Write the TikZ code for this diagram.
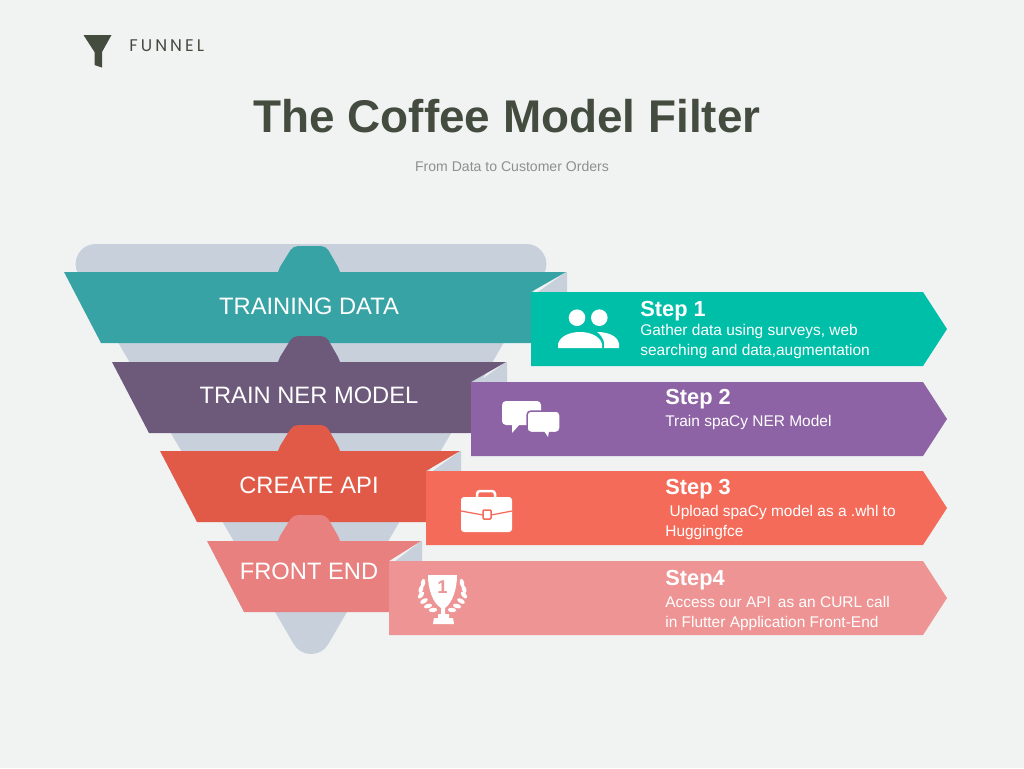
\documentclass[tikz,border=0pt]{standalone}
\usepackage{fontspec}
\setmainfont{Liberation Sans}
\newfontfamily\logofont[LetterSpace=18]{Poppins}
\usetikzlibrary{positioning}
\definecolor{paper}{HTML}{F1F3F3}
\definecolor{backfunnel}{HTML}{C7D0DB}
\definecolor{inkgreen}{HTML}{434C3E}
\definecolor{inkgrey}{HTML}{8B918C}
\definecolor{ribbonA}{HTML}{38A3A5}
\definecolor{ribbonB}{HTML}{6D597A}
\definecolor{ribbonC}{HTML}{E05A47}
\definecolor{ribbonD}{HTML}{E88080}
\definecolor{boxA}{HTML}{00BFA9}
\definecolor{boxB}{HTML}{8E63A5}
\definecolor{boxC}{HTML}{F46B5A}
\definecolor{boxD}{HTML}{EE9494}
\begin{document}
\begin{tikzpicture}[
    x=0.02cm, y=-0.02cm,
    ribbonlbl/.style={text=white, inner sep=0pt, font=\fontsize{13.5}{17}\selectfont},
    stephead/.style={anchor=west, text=white, inner sep=0pt, font=\bfseries\fontsize{12.4}{14}\selectfont},
    stepbody/.style={anchor=north west, text=white, inner sep=0pt, align=left, font=\fontsize{8.8}{11.4}\selectfont}
]
\fill[paper] (0,0) rectangle (1024,768);
\useasboundingbox (0,0) rectangle (1024,768);

% logo and titles
\fill[inkgreen] (83.5,35) -- (111.5,35) -- (102,52) -- (102,67.5) -- (94.5,65) -- (94.5,52) -- cycle;
\node[anchor=west, text=inkgreen, inner sep=0pt, font=\logofont\fontsize{9.6}{11}\selectfont] (logo) at (129,46) {FUNNEL};
\node[text=inkgreen, inner sep=0pt, font=\bfseries\fontsize{26.1}{30}\selectfont] (title) at (507,116) {The Coffee Model Filter};
\node[text=inkgrey, inner sep=0pt, font=\fontsize{8}{9}\selectfont] (subtitle) at (512,166) {From Data to Customer Orders};

% funnel behind the ribbons
\filldraw[backfunnel, line width=0.8cm, line join=round] (95.6,264) -- (526.4,264) -- (311,634) -- cycle;

% ribbons, folds and step boxes
\foreach \topy/\leftx/\rightx/\boxx/\ribcol/\boxcol in {
    272/64/566/531/ribbonA/boxA,
    362/112/506/471/ribbonB/boxB,
    451/160/460/426/ribbonC/boxC,
    541/207/421/389/ribbonD/boxD}{
  \fill[\ribcol] (278,\topy) -- (280,\topy-5) [rounded corners=0.1cm] -- (293,\topy-26) -- (326,\topy-26) [sharp corners] -- (338,\topy-5) -- (340,\topy) -- cycle;
  \fill[backfunnel] (\rightx,\topy) -- (\rightx+1,\topy) -- (\rightx+1,\topy+25) -- (\boxx,\topy+25) -- cycle;
  \fill[\ribcol] (\leftx,\topy) -- (\rightx,\topy) -- (\boxx,\topy+20) -- (\boxx,\topy+71) -- (\leftx+37,\topy+71) -- cycle;
  \fill[\boxcol] (\boxx,\topy+20) -- (923,\topy+20) -- (947,\topy+57) -- (923,\topy+94) -- (\boxx,\topy+94) -- cycle;
}

% ribbon labels
\node[ribbonlbl] (training) at (309,306) {TRAINING DATA};
\node[ribbonlbl] (trainner) at (309,395) {TRAIN NER MODEL};
\node[ribbonlbl] (createapi) at (309,485) {CREATE API};
\node[ribbonlbl] (frontend) at (309,571) {FRONT END};

% step texts
\node[stephead] (stepone) at (640,311) {Step 1};
\node[stepbody] (steponetxt) at (640,324) {Gather data using surveys, web\\searching and data,augmentation};
\node[stephead] (steptwo) at (665,399) {Step 2};
\node[stepbody] (steptwotxt) at (665,414.5) {Train spaCy NER Model};
\node[stephead] (stepthree) at (665,489) {Step 3};
\node[stepbody] (stepthreetxt) at (665,504.5) {\ Upload spaCy model as a .whl to\\Huggingfce};
\node[stephead] (stepfour) at (665,580) {Step4};
\node[stepbody] (stepfourtxt) at (665,595.5) {Access our API\hspace{0.45em}as an CURL call\\in Flutter Application Front-End};

% people icon
\fill[white] (577,317.7) circle (8.3) (599.3,317.7) circle (8.3);
\fill[white] (558,348) -- (558,344) .. controls (560,336) and (570,332) .. (580,332) .. controls (590,332) and (600,336) .. (602,344) -- (602,348) -- cycle;
\fill[white] (597,332) .. controls (610,332) and (618,337) .. (619,344) -- (619,348) -- (604,348) -- (604,342) .. controls (603,338) and (600,334) .. (597,332) -- cycle;

% chat icon
\fill[white, rounded corners=0.08cm] (502,401) rectangle (541,425);
\fill[white] (512,424) -- (512,433) -- (520,424) -- cycle;
\fill[white, draw=boxB, line width=0.03cm, rounded corners=0.08cm] (527,411) rectangle (560,432.5);
\fill[white] (544,431) -- (548,437) -- (549,431) -- cycle;

% briefcase icon
\draw[white, line width=0.05cm, rounded corners=0.06cm] (477,497) -- (477,491) -- (495,491) -- (495,497);
\fill[white, rounded corners=0.06cm] (461,497) rectangle (512,532);
\draw[boxC, line width=0.025cm] (461,511) -- (483,515) (491,515) -- (512,511);
\draw[boxC, fill=white, line width=0.03cm, rounded corners=0.02cm] (483,510) rectangle (491,519);

% trophy icon
\fill[white] (428,575) -- (457,575) .. controls (457,590) and (452,603) .. (445,608) -- (445,614) -- (449,614) -- (449,618) -- (453,618) -- (454,624) -- (433,624) -- (434,618) -- (438,618) -- (438,614) -- (441,614) -- (441,608) .. controls (433,603) and (428,590) .. (428,575) -- cycle;
\node[text=boxD, inner sep=0pt, font=\bfseries\fontsize{10.5}{11}\selectfont] (trophyone) at (442.5,587.5) {1};
\foreach \lx/\ly/\rot in {423/583/80, 421/589/70, 421/595/50, 424/601/30, 428/606/15, 433/610/5}{
  \fill[white, rotate around={\rot:(\lx,\ly)}] (\lx,\ly) ellipse (4.2 and 2.2);
  \fill[white, rotate around={-\rot:(885-\lx,\ly)}] (885-\lx,\ly) ellipse (4.2 and 2.2);
}
\end{tikzpicture}
\end{document}
